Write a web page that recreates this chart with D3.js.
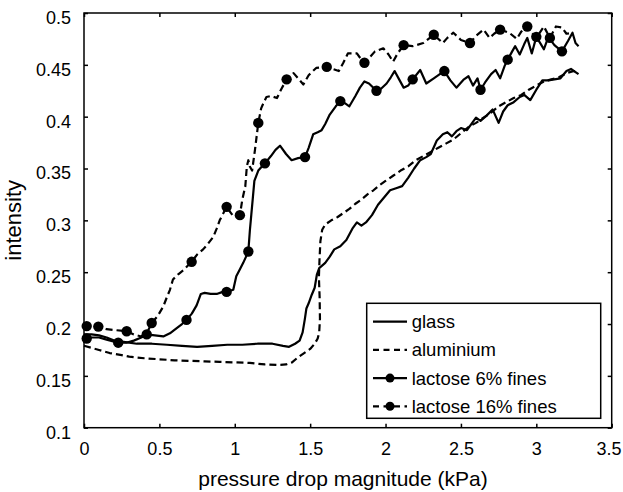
<!DOCTYPE html>
<html>
<head>
<meta charset="utf-8">
<script src="https://cdn.jsdelivr.net/npm/d3@7"></script>
<style>
  html, body { margin: 0; padding: 0; background: #fff; }
  svg { display: block; }
  text { font-family: "Liberation Sans", Arial, Helvetica, sans-serif; fill: #000; }
</style>
</head>
<body>
<svg id="chart" width="623" height="492"></svg>
<script>
// Intensity vs pressure drop for two wall materials and two lactose grades
const glass = [
  [0,0.190],[0.05,0.190],[0.1,0.189],[0.15,0.187],[0.2,0.184],[0.25,0.183],[0.3,0.182],[0.35,0.181],
  [0.45,0.181],[0.55,0.180],[0.65,0.179],[0.75,0.178],[0.85,0.179],[0.95,0.180],[1.05,0.180],[1.15,0.181],
  [1.25,0.181],[1.32,0.179],[1.36,0.178],[1.40,0.181],[1.43,0.184],[1.45,0.192],[1.465,0.205],[1.475,0.215],
  [1.49,0.220],[1.51,0.228],[1.53,0.235],[1.545,0.248],[1.56,0.254],[1.60,0.259],[1.63,0.265],[1.66,0.272],
  [1.70,0.275],[1.74,0.281],[1.78,0.292],[1.81,0.298],[1.84,0.295],[1.87,0.298],[1.91,0.305],[1.95,0.315],
  [1.99,0.322],[2.03,0.329],[2.07,0.331],[2.11,0.333],[2.15,0.341],[2.19,0.350],[2.23,0.358],[2.27,0.361],
  [2.30,0.364],[2.34,0.377],[2.38,0.383],[2.41,0.385],[2.44,0.381],[2.47,0.386],[2.50,0.389],[2.54,0.387],
  [2.57,0.393],[2.60,0.399],[2.63,0.396],[2.67,0.401],[2.71,0.407],[2.75,0.394],[2.78,0.405],[2.81,0.411],
  [2.85,0.414],[2.89,0.419],[2.92,0.421],[2.96,0.416],[3.00,0.426],[3.04,0.435],[3.08,0.435],[3.12,0.436],
  [3.16,0.437],[3.20,0.444],[3.23,0.446],[3.26,0.443],[3.28,0.441]
];

const aluminium = [
  [0,0.179],[0.05,0.177],[0.1,0.175],[0.17,0.172],[0.25,0.170],[0.3,0.1685],[0.4,0.167],[0.5,0.166],
  [0.6,0.165],[0.7,0.1645],[0.8,0.164],[0.9,0.1635],[1.0,0.163],[1.1,0.1625],[1.2,0.161],[1.28,0.1605],
  [1.34,0.161],[1.38,0.163],[1.42,0.168],[1.46,0.172],[1.50,0.176],[1.53,0.181],[1.55,0.186],[1.56,0.192],
  [1.565,0.205],[1.563,0.225],[1.558,0.245],[1.562,0.262],[1.568,0.28],[1.58,0.291],[1.60,0.296],[1.64,0.300],
  [1.68,0.303],[1.72,0.307],[1.76,0.311],[1.80,0.316],[1.84,0.320],[1.88,0.325],[1.92,0.329],[1.96,0.334],
  [2.00,0.338],[2.05,0.343],[2.10,0.348],[2.15,0.352],[2.20,0.358],[2.25,0.362],[2.30,0.366],[2.35,0.370],
  [2.40,0.374],[2.45,0.378],[2.50,0.384],[2.55,0.390],[2.60,0.394],[2.65,0.399],[2.70,0.404],[2.75,0.410],
  [2.80,0.414],[2.85,0.418],[2.90,0.421],[2.95,0.426],[3.00,0.430],[3.05,0.434],[3.10,0.436],[3.15,0.438],
  [3.20,0.442],[3.25,0.444],[3.28,0.443]
];

const lactose6 = [
  [0,0.186],[0.05,0.187],[0.1,0.187],[0.15,0.185],[0.2,0.183],[0.227,0.182],[0.28,0.182],[0.33,0.184],
  [0.38,0.187],[0.416,0.190],[0.47,0.189],[0.526,0.188],[0.57,0.191],[0.615,0.196],[0.65,0.200],[0.68,0.204],
  [0.715,0.210],[0.747,0.218],[0.775,0.229],[0.80,0.230],[0.84,0.229],[0.88,0.229],[0.92,0.231],[0.946,0.231],
  [0.99,0.233],[1.01,0.246],[1.035,0.253],[1.056,0.259],[1.075,0.265],[1.09,0.270],[1.10,0.290],[1.11,0.306],
  [1.12,0.322],[1.13,0.338],[1.156,0.348],[1.18,0.352],[1.20,0.355],[1.24,0.362],[1.27,0.368],[1.30,0.372],
  [1.34,0.364],[1.377,0.358],[1.42,0.360],[1.466,0.361],[1.49,0.370],[1.52,0.383],[1.55,0.385],[1.576,0.387],
  [1.60,0.393],[1.63,0.402],[1.67,0.410],[1.70,0.415],[1.73,0.413],[1.76,0.410],[1.80,0.420],[1.83,0.428],
  [1.86,0.434],[1.89,0.432],[1.94,0.425],[1.97,0.427],[2.007,0.432],[2.035,0.438],[2.06,0.444],[2.09,0.436],
  [2.12,0.428],[2.15,0.430],[2.18,0.436],[2.23,0.445],[2.27,0.432],[2.32,0.437],[2.36,0.441],[2.39,0.444],
  [2.43,0.435],[2.47,0.428],[2.52,0.436],[2.55,0.439],[2.58,0.430],[2.61,0.437],[2.63,0.426],[2.66,0.433],
  [2.70,0.441],[2.73,0.445],[2.76,0.437],[2.79,0.449],[2.81,0.455],[2.84,0.463],[2.86,0.468],[2.89,0.460],
  [2.92,0.470],[2.94,0.476],[2.97,0.461],[3.00,0.477],[3.03,0.470],[3.05,0.465],[3.08,0.477],[3.12,0.469],
  [3.17,0.463],[3.21,0.473],[3.24,0.481],[3.26,0.471],[3.28,0.468]
];
const lactose6Markers = [
  [0.018,0.186],[0.227,0.182],[0.416,0.190],[0.68,0.204],[0.946,0.231],[1.09,0.270],[1.20,0.355],
  [1.466,0.361],[1.70,0.415],[1.94,0.425],[2.18,0.436],[2.39,0.444],[2.63,0.426],[2.81,0.455],
  [3.00,0.477],[3.17,0.463]
];

const lactose16 = [
  [0,0.198],[0.05,0.198],[0.095,0.1975],[0.15,0.195],[0.217,0.194],[0.283,0.193],[0.33,0.190],[0.38,0.188],
  [0.42,0.192],[0.449,0.201],[0.49,0.208],[0.526,0.217],[0.55,0.226],[0.57,0.233],[0.59,0.243],[0.625,0.248],
  [0.66,0.252],[0.714,0.260],[0.75,0.267],[0.79,0.272],[0.82,0.277],[0.857,0.284],[0.88,0.292],[0.90,0.300],
  [0.925,0.307],[0.946,0.313],[0.97,0.308],[0.99,0.304],[1.034,0.305],[1.05,0.320],[1.07,0.333],[1.08,0.352],
  [1.09,0.358],[1.10,0.352],[1.115,0.348],[1.134,0.368],[1.156,0.394],[1.175,0.408],[1.19,0.413],[1.21,0.419],
  [1.24,0.420],[1.28,0.418],[1.31,0.427],[1.344,0.436],[1.39,0.442],[1.42,0.437],[1.455,0.431],[1.49,0.440],
  [1.54,0.447],[1.61,0.448],[1.65,0.446],[1.69,0.444],[1.72,0.452],[1.75,0.461],[1.81,0.461],[1.835,0.456],
  [1.86,0.452],[1.90,0.458],[1.93,0.463],[1.985,0.466],[2.02,0.460],[2.05,0.453],[2.08,0.461],[2.12,0.469],
  [2.18,0.468],[2.25,0.471],[2.32,0.479],[2.38,0.471],[2.41,0.476],[2.45,0.481],[2.50,0.474],[2.56,0.471],
  [2.60,0.478],[2.65,0.484],[2.69,0.476],[2.72,0.480],[2.76,0.484],[2.82,0.481],[2.87,0.475],[2.90,0.482],
  [2.94,0.487],[2.97,0.481],[3.00,0.476],[3.05,0.487],[3.09,0.476],[3.13,0.487],[3.17,0.486],[3.20,0.480],
  [3.24,0.481]
];
const lactose16Markers = [
  [0.018,0.198],[0.095,0.1975],[0.283,0.193],[0.449,0.201],[0.714,0.260],[0.946,0.313],[1.034,0.305],
  [1.156,0.394],[1.344,0.436],[1.61,0.448],[1.86,0.452],[2.12,0.469],[2.32,0.479],[2.56,0.471],
  [2.76,0.484],[2.94,0.487],[3.09,0.476]
];

const xTicks = [0, 0.5, 1, 1.5, 2, 2.5, 3, 3.5];
const yTicks = [0.1, 0.15, 0.2, 0.25, 0.3, 0.35, 0.4, 0.45, 0.5];
const xTickLabels = ["0", "0.5", "1", "1.5", "2", "2.5", "3", "3.5"];
const yTickLabels = ["0.1", "0.15", "0.2", "0.25", "0.3", "0.35", "0.4", "0.45", "0.5"];
const legendLabels = ["glass", "aluminium", "lactose 6% fines", "lactose 16% fines"];

const W = 623, H = 492;
const plot = { left: 84, right: 611.7, top: 13, bottom: 427.7 };
const x = d3.scaleLinear().domain([0, 3.5]).range([plot.left, plot.right]);
const y = d3.scaleLinear().domain([0.1, 0.5]).range([plot.bottom, plot.top]);

const svg = d3.select("#chart");
svg.append("rect").attr("width", W).attr("height", H).attr("fill", "#fff");

const DASH = "7,4";
const series = [
  { name: legendLabels[0], data: glass, dash: null, markers: null },
  { name: legendLabels[1], data: aluminium, dash: DASH, markers: null },
  { name: legendLabels[2], data: lactose6, dash: null, markers: lactose6Markers },
  { name: legendLabels[3], data: lactose16, dash: DASH, markers: lactose16Markers }
];

const line = d3.line().x(d => x(d[0])).y(d => y(d[1]));

// axes: labelled bottom/left, mirrored inward ticks on top/right
const fmtX = (d, i) => xTickLabels[i];
const fmtY = (d, i) => yTickLabels[i];
const gx = svg.append("g").attr("transform", `translate(0,${plot.bottom})`)
  .call(d3.axisBottom(x).tickValues(xTicks).tickFormat(fmtX).tickSizeInner(-4).tickSizeOuter(0).tickPadding(15));
const gy = svg.append("g").attr("transform", `translate(${plot.left},0)`)
  .call(d3.axisLeft(y).tickValues(yTicks).tickFormat(fmtY).tickSizeInner(-4).tickSizeOuter(0).tickPadding(13));
svg.append("g").attr("transform", `translate(0,${plot.top})`)
  .call(d3.axisTop(x).tickValues(xTicks).tickFormat("").tickSizeInner(-4).tickSizeOuter(0));
svg.append("g").attr("transform", `translate(${plot.right},0)`)
  .call(d3.axisRight(y).tickValues(yTicks).tickFormat("").tickSizeInner(-4).tickSizeOuter(0));

svg.selectAll(".domain").remove();
svg.selectAll(".tick line").attr("stroke", "#000").attr("stroke-width", 1.5);
gx.selectAll("text").attr("font-size", 18).attr("fill", "#000").style("font-family", "Liberation Sans, Arial, sans-serif");
gy.selectAll("text").attr("font-size", 18).attr("fill", "#000").attr("dy", "0.58em").style("font-family", "Liberation Sans, Arial, sans-serif");

// keep the last x label inside the page edge
gx.selectAll(".tick text").filter((d, i, n) => i === n.length - 1)
  .attr("text-anchor", "end").attr("x", (W - 2) - plot.right);

// data lines
const gLines = svg.append("g");
series.forEach(s => {
  gLines.append("path")
    .datum(s.data)
    .attr("d", line)
    .attr("fill", "none")
    .attr("stroke", "#000")
    .attr("stroke-width", 2.2)
    .attr("stroke-linejoin", "round")
    .attr("stroke-dasharray", s.dash);
  if (s.markers) {
    gLines.selectAll(null).data(s.markers).join("circle")
      .attr("cx", d => x(d[0])).attr("cy", d => y(d[1])).attr("r", 5.2).attr("fill", "#000");
  }
});

// frame
svg.append("rect")
  .attr("x", plot.left).attr("y", plot.top)
  .attr("width", plot.right - plot.left).attr("height", plot.bottom - plot.top)
  .attr("fill", "none").attr("stroke", "#000").attr("stroke-width", 1.5);

// axis titles
svg.append("text")
  .attr("x", 343).attr("y", 486)
  .attr("text-anchor", "middle").attr("font-size", 21)
  .text("pressure drop magnitude (kPa)");
svg.append("text")
  .attr("transform", `translate(21,${(plot.top + plot.bottom) / 2}) rotate(-90)`)
  .attr("text-anchor", "middle").attr("font-size", 22)
  .text("intensity");

// legend
const leg = svg.append("g");
leg.append("rect")
  .attr("x", 366.7).attr("y", 303.3).attr("width", 234).attr("height", 115)
  .attr("fill", "#fff").attr("stroke", "#000").attr("stroke-width", 1.5);
series.forEach((s, i) => {
  const cy = 321.7 + i * 28.2;
  leg.append("line")
    .attr("x1", 373).attr("x2", 407).attr("y1", cy).attr("y2", cy)
    .attr("stroke", "#000").attr("stroke-width", 2.2)
    .attr("stroke-dasharray", s.dash ? "6,4.5" : null);
  if (s.markers) {
    leg.append("circle").attr("cx", 390).attr("cy", cy).attr("r", 4.5).attr("fill", "#000");
  }
  leg.append("text")
    .attr("x", 411.7).attr("y", cy).attr("dy", "0.35em")
    .attr("font-size", 18.5)
    .text(s.name);
});
</script>
</body>
</html>
